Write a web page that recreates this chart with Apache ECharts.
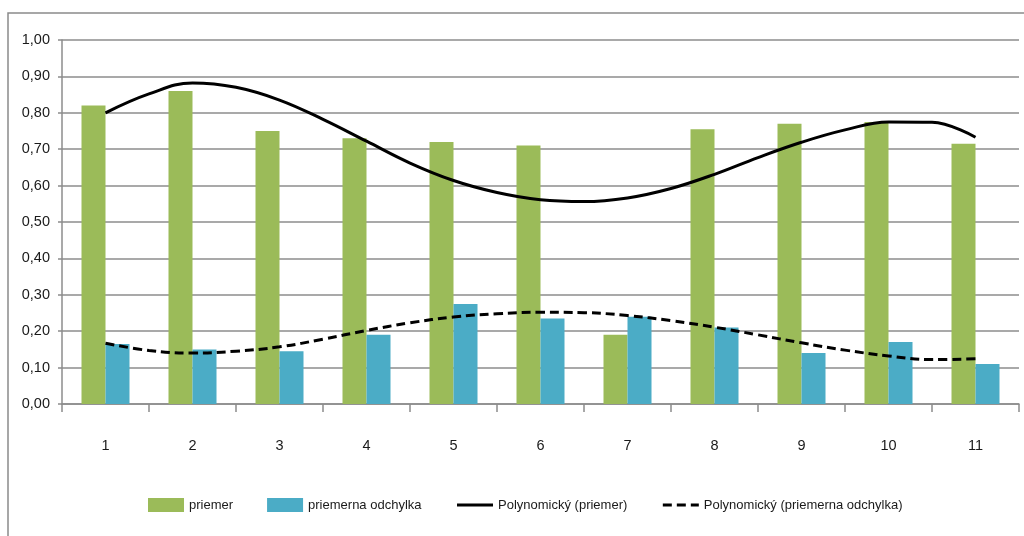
<!DOCTYPE html>
<html>
<head>
<meta charset="utf-8">
<script src="https://cdn.jsdelivr.net/npm/echarts@6/dist/echarts.min.js"></script>
<style>
    html, body {margin: 0; padding: 0; background: #ffffff;}
    #chart {width: 1024px; height: 536px;}
</style>
</head>
<body>
<div id="chart"></div>
<script>
// kategorie na osi x
let categories = ['1', '2', '3', '4', '5', '6', '7', '8', '9', '10', '11'];
// hodnoty stlpcov
let priemer = [0.82, 0.86, 0.75, 0.73, 0.72, 0.71, 0.19, 0.755, 0.77, 0.775, 0.715];
let odchylka = [0.165, 0.15, 0.145, 0.19, 0.275, 0.235, 0.24, 0.21, 0.14, 0.17, 0.11];
// polynomicke trendy odcitane z obrazku (pozicia kategorie, hodnota)
let trendX = [1, 1.5, 2, 2.5, 3, 3.5, 4, 4.5, 5, 5.5, 6, 6.5, 7, 7.5, 8, 8.5, 9, 9.5, 10, 10.5, 11];
let trendPriemer = [0.80, 0.852, 0.882, 0.87, 0.835, 0.782, 0.722, 0.662, 0.614, 0.581, 0.561,
    0.556, 0.566, 0.592, 0.631, 0.677, 0.719, 0.753, 0.775, 0.774, 0.733];
let trendOdchylka = [0.167, 0.147, 0.14, 0.145, 0.157, 0.178, 0.202, 0.223, 0.239, 0.248, 0.252,
    0.251, 0.243, 0.229, 0.211, 0.19, 0.168, 0.148, 0.132, 0.122, 0.124];
// popisky osi y
let yMin = 0;
let yMax = 1;
let yStep = 0.1;

let font = 'Liberation Sans';
let gray = '#8c8c8c';
let textColor = '#1a1a1a';

let pairs = (xs, ys) => xs.map((x, i) => [x, ys[i]]);
// ciara v legende bez bodky
let hiddenDot = {color: 'rgba(0,0,0,0)', borderColor: 'rgba(0,0,0,0)', borderWidth: 0};

let chart = echarts.init(document.getElementById('chart'), null, {renderer: 'canvas'});
let option = {
    animation: false,
    backgroundColor: '#ffffff',
    graphic: [
        {
            type: 'rect',
            shape: {x: 8, y: 13, width: 1100, height: 600},
            style: {fill: 'none', stroke: '#8a8a8a', lineWidth: 1.5},
            silent: true
        }
    ],
    grid: {left: 62, right: 5, top: 40, bottom: 132, containLabel: false},
    legend: {
        left: 148,
        top: 498,
        padding: 0,
        itemWidth: 36,
        itemHeight: 14,
        itemGap: 34,
        textStyle: {fontFamily: font, fontSize: 13, color: textColor},
        data: [
            {name: 'priemer', icon: 'rect'},
            {name: 'priemerna odchylka', icon: 'rect'},
            {name: 'Polynomický (priemer)', itemStyle: hiddenDot, lineStyle: {width: 3}},
            {name: 'Polynomický (priemerna odchylka)', itemStyle: hiddenDot, lineStyle: {width: 3}}
        ]
    },
    xAxis: [
        {
            type: 'category',
            data: categories,
            axisLine: {lineStyle: {color: gray, width: 1.5}},
            axisTick: {show: true, length: 8, lineStyle: {color: gray, width: 1.5}},
            axisLabel: {fontFamily: font, fontSize: 14.5, color: textColor, margin: 34},
            splitLine: {show: false}
        },
        {
            type: 'value',
            min: 0.5,
            max: 11.5,
            show: false
        }
    ],
    yAxis: {
        type: 'value',
        min: yMin,
        max: yMax,
        interval: yStep,
        axisLine: {show: true, lineStyle: {color: gray, width: 1.5}},
        axisTick: {show: true, length: 4, lineStyle: {color: gray, width: 1.5}},
        axisLabel: {
            fontFamily: font,
            fontSize: 14.5,
            color: textColor,
            margin: 12,
            formatter: (v) => v.toFixed(2).replace('.', ',')
        },
        splitLine: {lineStyle: {color: gray, width: 1.5}}
    },
    series: [
        {
            name: 'priemer',
            type: 'bar',
            data: priemer,
            barWidth: 24,
            barGap: '0%',
            itemStyle: {color: '#9bbb59'}
        },
        {
            name: 'priemerna odchylka',
            type: 'bar',
            data: odchylka,
            barWidth: 24,
            barGap: '0%',
            itemStyle: {color: '#4bacc6'}
        },
        {
            name: 'Polynomický (priemer)',
            type: 'line',
            xAxisIndex: 1,
            data: pairs(trendX, trendPriemer),
            smooth: 0.4,
            symbol: 'none',
            lineStyle: {color: '#000000', width: 3},
            itemStyle: {color: '#000000'}
        },
        {
            name: 'Polynomický (priemerna odchylka)',
            type: 'line',
            xAxisIndex: 1,
            data: pairs(trendX, trendOdchylka),
            smooth: 0.4,
            symbol: 'none',
            lineStyle: {color: '#000000', width: 3, type: [9, 5]},
            itemStyle: {color: '#000000'}
        }
    ]
};
chart.setOption(option);
</script>
</body>
</html>
